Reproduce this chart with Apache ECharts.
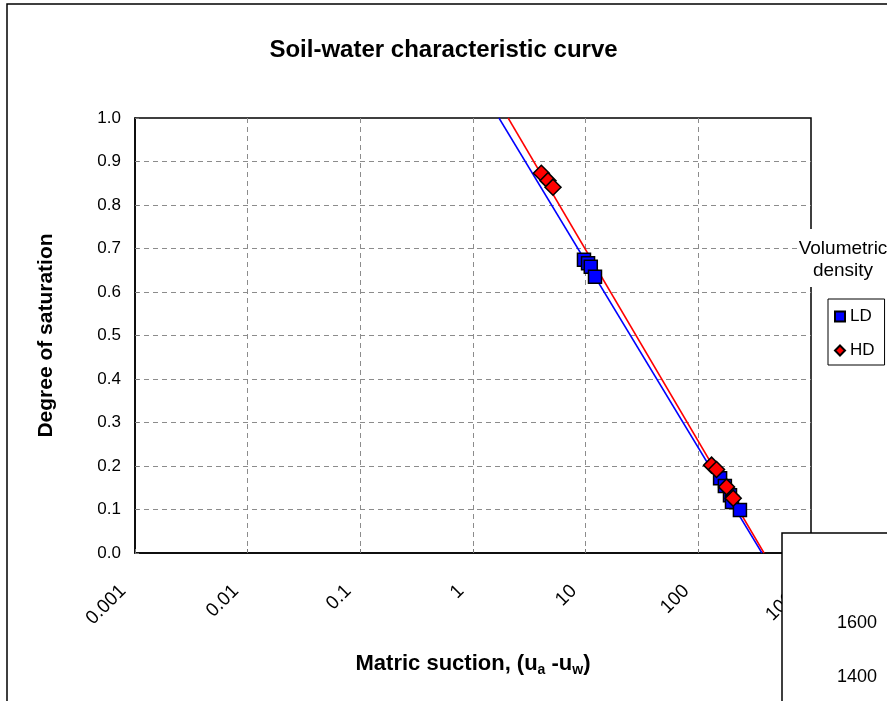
<!DOCTYPE html>
<html>
<head>
<meta charset="utf-8">
<script src="https://cdn.jsdelivr.net/npm/echarts@6/dist/echarts.min.js"></script>
<style>
  html, body { margin: 0; padding: 0; background: #fff; }
  #chart { width: 887px; height: 701px; }
</style>
</head>
<body>
<div id="chart"></div>
<script>
// Tick labels of the logarithmic suction axis
const xTickLabels = ['0.001', '0.01', '0.1', '1', '10', '100', '1000'];

// Measured points: [matric suction, degree of saturation]
const ldPoints = [
  [9.66, 0.674], [10.5, 0.666], [11.1, 0.658], [12.1, 0.635],
  [156, 0.172], [172, 0.154], [191, 0.133], [199, 0.117], [234, 0.099]
];
const hdPoints = [
  [4.04, 0.873], [4.63, 0.856], [5.13, 0.841],
  [131, 0.202], [145, 0.192], [178, 0.152], [204, 0.126]
];

// Fitted straight lines (semi-log), end points
const ldFit = [[1.70, 1.0], [367, 0.0]];
const hdFit = [[2.05, 1.0], [383, 0.0]];

// Labels of the neighbouring density panel
const densityTicks = ['1600', '1400'];

const FONT = '"Liberation Sans", Arial, sans-serif';
const chart = echarts.init(document.getElementById('chart'), null, { renderer: 'canvas' });

const densityTexts = densityTicks.map((t, i) => ({
  type: 'text',
  z: 102,
  style: {
    x: 877, y: 623 + i * 54, text: t,
    textAlign: 'right', textVerticalAlign: 'middle',
    font: '18px ' + FONT, fill: '#000'
  }
}));

const gridLine = { show: true, showMinLine: false, showMaxLine: false,
  lineStyle: { color: '#8c8c8c', width: 1, type: [5, 4] } };

const option = {
  backgroundColor: '#fff',
  animation: false,
  title: {
    text: 'Soil-water characteristic curve',
    left: 'center',
    top: 33,
    textStyle: { fontFamily: FONT, fontSize: 24, fontWeight: 'bold', color: '#000' }
  },
  legend: {
    orient: 'vertical',
    left: 828,
    top: 299,
    padding: [9, 10, 6, 6],
    itemGap: 17,
    itemWidth: 10,
    itemHeight: 10,
    itemTextGap: 5,
    borderColor: '#000',
    borderWidth: 1,
    backgroundColor: '#fff',
    borderRadius: 0,
    data: ['LD', 'HD'],
    textStyle: { fontFamily: FONT, fontSize: 17, color: '#000' }
  },
  grid: {
    left: 135, right: 76, top: 118, bottom: 148,
    show: true, borderColor: '#000', borderWidth: 1.5, backgroundColor: 'transparent'
  },
  xAxis: {
    type: 'log',
    logBase: 10,
    min: 0.001,
    max: 1000,
    name: '{b|Matric suction, (u}{s|a}{b| -u}{s|w}{b|)}',
    nameLocation: 'middle',
    nameGap: 98,
    nameTextStyle: {
      rich: {
        b: { fontFamily: FONT, fontSize: 22, fontWeight: 'bold', color: '#000', lineHeight: 26 },
        s: { fontFamily: FONT, fontSize: 14, fontWeight: 'bold', color: '#000', lineHeight: 26, padding: [12, 0, 0, 0] }
      }
    },
    axisLine: { show: true, lineStyle: { color: '#000', width: 1.5 } },
    axisTick: { show: true, inside: true, length: 4, lineStyle: { color: '#777' } },
    axisLabel: {
      rotate: 45,
      margin: 23,
      padding: [0, 17, 0, 0],
      fontFamily: FONT,
      fontSize: 19,
      color: '#000',
      formatter: v => xTickLabels[Math.round(Math.log10(v)) + 3]
    },
    splitLine: gridLine,
    minorTick: { show: false }
  },
  yAxis: {
    type: 'value',
    min: 0,
    max: 1,
    interval: 0.1,
    name: 'Degree of saturation',
    nameLocation: 'middle',
    nameGap: 78,
    nameTextStyle: { fontFamily: FONT, fontSize: 21, fontWeight: 'bold', color: '#000' },
    axisLine: { show: true, lineStyle: { color: '#000', width: 1.5 } },
    axisTick: { show: true, inside: true, length: 4, lineStyle: { color: '#777' } },
    axisLabel: {
      margin: 14,
      fontFamily: FONT,
      fontSize: 17,
      color: '#000',
      formatter: v => v.toFixed(1)
    },
    splitLine: gridLine
  },
  series: [
    {
      name: 'LD fit', type: 'line', data: ldFit, symbol: 'none', silent: true,
      lineStyle: { color: '#0000ff', width: 1.5 }, z: 2
    },
    {
      name: 'HD fit', type: 'line', data: hdFit, symbol: 'none', silent: true,
      lineStyle: { color: '#ff0000', width: 1.5 }, z: 2
    },
    {
      name: 'LD', type: 'scatter', data: ldPoints, symbol: 'rect', symbolSize: 13,
      itemStyle: { color: '#0000ff', borderColor: '#000', borderWidth: 1.5, opacity: 1 }, z: 3
    },
    {
      name: 'HD', type: 'scatter', data: hdPoints, symbol: 'diamond', symbolSize: 16,
      itemStyle: { color: '#ff0000', borderColor: '#000', borderWidth: 1.5, opacity: 1 }, z: 4
    }
  ],
  graphic: [
    // outer chart frame
    {
      type: 'rect', z: -1, silent: true,
      shape: { x: 7, y: 4, width: 950, height: 760 },
      style: { fill: 'none', stroke: '#000', lineWidth: 1.5 }
    },
    // caption of the legend
    {
      type: 'rect', z: 100, silent: true,
      shape: { x: 797, y: 229, width: 100, height: 58 },
      style: { fill: '#fff', stroke: 'none' }
    },
    {
      type: 'text', z: 101,
      style: {
        x: 843, y: 260, text: 'Volumetric\ndensity',
        textAlign: 'center', textVerticalAlign: 'middle',
        font: '19px ' + FONT, fill: '#000', lineHeight: 22
      }
    },
    // neighbouring density panel
    {
      type: 'rect', z: 101, silent: true,
      shape: { x: 782, y: 533, width: 200, height: 300 },
      style: { fill: '#fff', stroke: '#000', lineWidth: 1.5 }
    }
  ].concat(densityTexts)
};

chart.setOption(option);
</script>
</body>
</html>
